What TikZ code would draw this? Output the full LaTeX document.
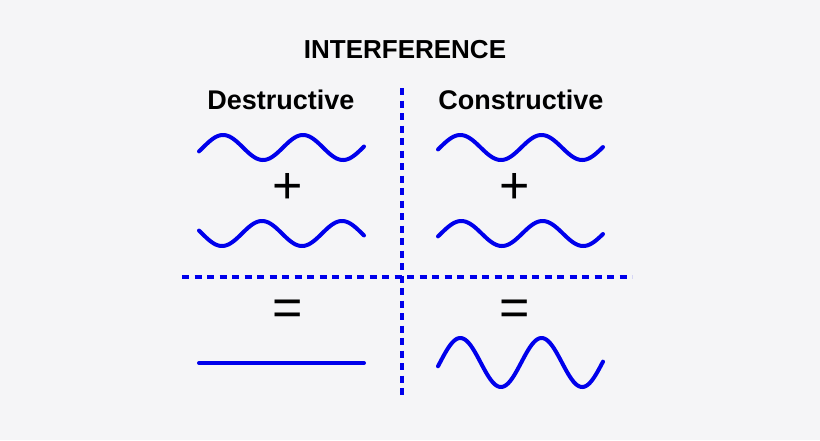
\documentclass[tikz,border=0pt]{standalone}
\usepackage{fontspec}
\setmainfont{Liberation Sans}
\begin{document}
\begin{tikzpicture}[x=1pt,y=-1pt,
  wave/.style={draw={rgb,255:red,0;green,0;blue,235},line width=4pt,line cap=round},
  sep/.style={draw={rgb,255:red,0;green,0;blue,235},line width=3.5pt,dash pattern=on 7pt off 5.5pt},
  lab/.style={font=\bfseries\fontsize{#1}{#1}\selectfont},
  op/.style={font=\fontsize{52}{52}\selectfont}]
\fill[fill={rgb,255:red,245;green,245;blue,247}] (0,0) rectangle (820,440);
\useasboundingbox (0,0) rectangle (820,440);
\node[lab=26] (title) at (405,50) {INTERFERENCE};
\node[lab=27] (des) at (281,100) {Destructive};
\node[lab=27] (con) at (521,100) {Constructive};
\coordinate (vt) at (402,88); \coordinate (vb) at (402,400);
\coordinate (hl) at (182,277); \coordinate (hr) at (632,277);
\draw[sep] (vt) -- (vb);
\draw[sep] (hl) -- (hr);
\draw[wave] plot[domain=199:364,samples=120,smooth] (\x,{147.5-12.5*sin((\x-203)*4.5)});
\draw[wave] plot[domain=199:364,samples=120,smooth] (\x,{233.5+12.5*sin((\x-202)*4.5)});
\draw[wave] plot[domain=438:603,samples=120,smooth] (\x,{147.5-12.5*sin((\x-440)*4.43)});
\draw[wave] plot[domain=438:603,samples=120,smooth] (\x,{233.5-12.5*sin((\x-441)*4.43)});
\draw[wave] plot[domain=438:603,samples=120,smooth] (\x,{362.5-24.5*sin((\x-440)*4.43)});
\coordinate (fl) at (199,363); \coordinate (fr) at (364,363);
\draw[wave] (fl) -- (fr);
\node[op] (p1) at (288,188) {+};
\node[op] (p2) at (515,188) {+};
\node[op] (e1) at (288,313) {=};
\node[op] (e2) at (515,313) {=};
\end{tikzpicture}
\end{document}
